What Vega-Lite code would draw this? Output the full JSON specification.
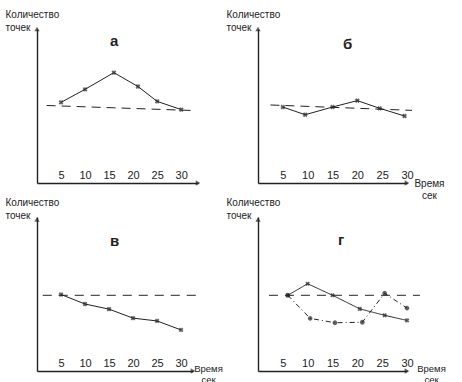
{
  "$schema": "https://vega.github.io/schema/vega-lite/v6.json",
  "background": "white",
  "padding": {"left": 5, "top": 9, "right": 5, "bottom": 3},
  "autosize": {"type": "pad"},
  "datasets": {
    "pts": [
      {"panel": "а", "series": "s1", "x": 5, "y": 3.14},
      {"panel": "а", "series": "s1", "x": 10, "y": 3.65},
      {"panel": "а", "series": "s1", "x": 16, "y": 4.3},
      {"panel": "а", "series": "s1", "x": 21, "y": 3.76},
      {"panel": "а", "series": "s1", "x": 25, "y": 3.18},
      {"panel": "а", "series": "s1", "x": 30, "y": 2.86},
      {"panel": "б", "series": "s1", "x": 5, "y": 2.96},
      {"panel": "б", "series": "s1", "x": 9.5, "y": 2.66},
      {"panel": "б", "series": "s1", "x": 15, "y": 2.96},
      {"panel": "б", "series": "s1", "x": 20, "y": 3.21},
      {"panel": "б", "series": "s1", "x": 24.5, "y": 2.91},
      {"panel": "б", "series": "s1", "x": 29.5, "y": 2.61},
      {"panel": "в", "series": "s1", "x": 5, "y": 2.98},
      {"panel": "в", "series": "s1", "x": 10, "y": 2.61},
      {"panel": "в", "series": "s1", "x": 15, "y": 2.41},
      {"panel": "в", "series": "s1", "x": 20, "y": 2.06},
      {"panel": "в", "series": "s1", "x": 25, "y": 1.95},
      {"panel": "в", "series": "s1", "x": 30, "y": 1.6},
      {"panel": "г", "series": "s1", "x": 6, "y": 2.95},
      {"panel": "г", "series": "s1", "x": 10, "y": 3.4},
      {"panel": "г", "series": "s1", "x": 15, "y": 2.95},
      {"panel": "г", "series": "s1", "x": 20.5, "y": 2.42},
      {"panel": "г", "series": "s1", "x": 25.5, "y": 2.17},
      {"panel": "г", "series": "s1", "x": 30, "y": 1.97},
      {"panel": "г", "series": "s2", "x": 6, "y": 2.95},
      {"panel": "г", "series": "s2", "x": 10.5, "y": 2.05},
      {"panel": "г", "series": "s2", "x": 15.5, "y": 1.88},
      {"panel": "г", "series": "s2", "x": 21, "y": 1.9},
      {"panel": "г", "series": "s2", "x": 25.5, "y": 3.03},
      {"panel": "г", "series": "s2", "x": 30, "y": 2.45}
    ],
    "ref": [
      {"panel": "а", "x": 2, "y": 3.02},
      {"panel": "а", "x": 33, "y": 2.82},
      {"panel": "б", "x": 2.5, "y": 3.04},
      {"panel": "б", "x": 31, "y": 2.83},
      {"panel": "в", "x": 1.2, "y": 2.95},
      {"panel": "в", "x": 33.3, "y": 2.95},
      {"panel": "г", "x": 2.2, "y": 2.95},
      {"panel": "г", "x": 32.6, "y": 2.95}
    ],
    "xt": [
      {"panel": "а", "x": 5}, {"panel": "а", "x": 10}, {"panel": "а", "x": 15}, {"panel": "а", "x": 20}, {"panel": "а", "x": 25}, {"panel": "а", "x": 30},
      {"panel": "б", "x": 5}, {"panel": "б", "x": 10}, {"panel": "б", "x": 15}, {"panel": "б", "x": 20}, {"panel": "б", "x": 25},
      {"panel": "в", "x": 5}, {"panel": "в", "x": 10}, {"panel": "в", "x": 15}, {"panel": "в", "x": 20}, {"panel": "в", "x": 25}, {"panel": "в", "x": 30},
      {"panel": "г", "x": 5}, {"panel": "г", "x": 10}, {"panel": "г", "x": 15}, {"panel": "г", "x": 20}, {"panel": "г", "x": 25}
    ],
    "yt": [
      {"y": 1}, {"y": 2}, {"y": 3}, {"y": 4}, {"y": 5}
    ],
    "arr": [
      {"panel": "а", "ax": "x", "x": 33.5, "y": 0},
      {"panel": "а", "ax": "y", "x": 0, "y": 6},
      {"panel": "б", "ax": "x", "x": 30, "y": 0},
      {"panel": "б", "ax": "y", "x": 0, "y": 6},
      {"panel": "в", "ax": "x", "x": 32.5, "y": 0},
      {"panel": "в", "ax": "y", "x": 0, "y": 5.9},
      {"panel": "г", "ax": "x", "x": 30, "y": 0},
      {"panel": "г", "ax": "y", "x": 0, "y": 5.9}
    ]
  },
  "columns": 2,
  "spacing": {"row": 34, "column": 60},
  "bounds": "flush",
  "concat": [
    {
      "width": 161, "height": 154,
      "title": {"text": "а", "anchor": "start", "frame": "group", "dx": 73, "dy": 44},
      "encoding": {
        "x": {"field": "x", "type": "quantitative", "scale": {"domain": [0, 33.5], "nice": false, "zero": false}, "axis": {"title": null, "values": [5, 10, 15, 20, 25, 30]}},
        "y": {"field": "y", "type": "quantitative", "scale": {"domain": [0, 6], "nice": false}, "axis": {"title": ["Количество", "точек"]}}
      },
      "resolve": {"scale": {"shape": "independent"}},
      "layer": [
        {"data": {"name": "ref"}, "transform": [{"filter": "datum.panel === 'а'"}], "mark": {"type": "line", "strokeDash": [9, 6], "strokeWidth": 1, "color": "#222"}},
        {"data": {"name": "pts"}, "transform": [{"filter": "datum.panel === 'а'"}], "mark": {"type": "line", "strokeWidth": 1, "color": "#222"}},
        {"data": {"name": "pts"}, "transform": [{"filter": "datum.panel === 'а'"}], "mark": {"type": "point", "shape": "cross", "angle": 45, "filled": true, "size": 24, "color": "#222"}},
        {"data": {"name": "xt"}, "transform": [{"filter": "datum.panel === 'а'"}], "mark": {"type": "tick", "orient": "vertical", "size": 8, "thickness": 1, "color": "#222"}, "encoding": {"y": {"datum": 0}}},
        {"data": {"name": "yt"}, "mark": {"type": "tick", "orient": "horizontal", "size": 9, "thickness": 1, "color": "#222"}, "encoding": {"x": {"datum": 0}}},
        {"data": {"name": "arr"}, "transform": [{"filter": "datum.panel === 'а'"}], "mark": {"type": "point", "filled": true, "size": 28, "color": "#222"}, "encoding": {"shape": {"field": "ax", "type": "nominal", "scale": {"domain": ["x", "y"], "range": ["triangle-right", "triangle-up"]}, "legend": null}}}
      ]
    },
    {
      "width": 149, "height": 154,
      "title": {"text": "б", "anchor": "start", "frame": "group", "dx": 85, "dy": 47},
      "encoding": {
        "x": {"field": "x", "type": "quantitative", "scale": {"domain": [0, 30], "nice": false, "zero": false}, "axis": {"values": [5, 10, 15, 20, 25, 30], "title": ["Время", "сек"], "titleX": 171, "titleY": 0, "titleLineHeight": 12}},
        "y": {"field": "y", "type": "quantitative", "scale": {"domain": [0, 6], "nice": false}, "axis": {"title": ["Количество", "точек"]}}
      },
      "resolve": {"scale": {"shape": "independent"}},
      "layer": [
        {"data": {"name": "ref"}, "transform": [{"filter": "datum.panel === 'б'"}], "mark": {"type": "line", "strokeDash": [9, 6], "strokeWidth": 1, "color": "#222"}},
        {"data": {"name": "pts"}, "transform": [{"filter": "datum.panel === 'б'"}], "mark": {"type": "line", "strokeWidth": 1, "color": "#222"}},
        {"data": {"name": "pts"}, "transform": [{"filter": "datum.panel === 'б'"}], "mark": {"type": "point", "shape": "cross", "angle": 45, "filled": true, "size": 24, "color": "#222"}},
        {"data": {"name": "xt"}, "transform": [{"filter": "datum.panel === 'б'"}], "mark": {"type": "tick", "orient": "vertical", "size": 8, "thickness": 1, "color": "#222"}, "encoding": {"y": {"datum": 0}}},
        {"data": {"name": "yt"}, "mark": {"type": "tick", "orient": "horizontal", "size": 9, "thickness": 1, "color": "#222"}, "encoding": {"x": {"datum": 0}}},
        {"data": {"name": "arr"}, "transform": [{"filter": "datum.panel === 'б'"}], "mark": {"type": "point", "filled": true, "size": 28, "color": "#222"}, "encoding": {"shape": {"field": "ax", "type": "nominal", "scale": {"domain": ["x", "y"], "range": ["triangle-right", "triangle-up"]}, "legend": null}}}
      ]
    },
    {
      "width": 156, "height": 154,
      "title": {"text": "в", "anchor": "start", "frame": "group", "dx": 73, "dy": 56},
      "encoding": {
        "x": {"field": "x", "type": "quantitative", "scale": {"domain": [0, 32.5], "nice": false, "zero": false}, "axis": {"values": [5, 10, 15, 20, 25, 30], "title": ["Время", "сек"], "titleX": 171, "titleY": -3, "titleFontSize": 9.5, "titleLineHeight": 11}},
        "y": {"field": "y", "type": "quantitative", "scale": {"domain": [0, 6], "nice": false}, "axis": {"title": ["Количество", "точек"]}}
      },
      "resolve": {"scale": {"shape": "independent"}},
      "layer": [
        {"data": {"name": "ref"}, "transform": [{"filter": "datum.panel === 'в'"}], "mark": {"type": "line", "strokeDash": [9, 7], "strokeWidth": 1, "color": "#222"}},
        {"data": {"name": "pts"}, "transform": [{"filter": "datum.panel === 'в'"}], "mark": {"type": "line", "strokeWidth": 1, "color": "#222"}},
        {"data": {"name": "pts"}, "transform": [{"filter": "datum.panel === 'в'"}], "mark": {"type": "point", "shape": "cross", "angle": 45, "filled": true, "size": 24, "color": "#222"}},
        {"data": {"name": "xt"}, "transform": [{"filter": "datum.panel === 'в'"}], "mark": {"type": "tick", "orient": "vertical", "size": 8, "thickness": 1, "color": "#222"}, "encoding": {"y": {"datum": 0}}},
        {"data": {"name": "yt"}, "mark": {"type": "tick", "orient": "horizontal", "size": 9, "thickness": 1, "color": "#222"}, "encoding": {"x": {"datum": 0}}},
        {"data": {"name": "arr"}, "transform": [{"filter": "datum.panel === 'в'"}], "mark": {"type": "point", "filled": true, "size": 28, "color": "#222"}, "encoding": {"shape": {"field": "ax", "type": "nominal", "scale": {"domain": ["x", "y"], "range": ["triangle-right", "triangle-up"]}, "legend": null}}}
      ]
    },
    {
      "width": 149, "height": 154,
      "title": {"text": "г", "anchor": "start", "frame": "group", "dx": 80, "dy": 55},
      "encoding": {
        "x": {"field": "x", "type": "quantitative", "scale": {"domain": [0, 30], "nice": false, "zero": false}, "axis": {"values": [5, 10, 15, 20, 25, 30], "title": ["Время", "сек"], "titleX": 173, "titleY": -3, "titleFontSize": 9.5, "titleLineHeight": 11}},
        "y": {"field": "y", "type": "quantitative", "scale": {"domain": [0, 6], "nice": false}, "axis": {"title": ["Количество", "точек"]}}
      },
      "resolve": {"scale": {"shape": "independent", "strokeDash": "independent"}},
      "layer": [
        {"data": {"name": "ref"}, "transform": [{"filter": "datum.panel === 'г'"}], "mark": {"type": "line", "strokeDash": [9, 7], "strokeWidth": 1, "color": "#222"}},
        {"data": {"name": "pts"}, "transform": [{"filter": "datum.panel === 'г'"}], "mark": {"type": "line", "strokeWidth": 1, "color": "#222"}, "encoding": {"strokeDash": {"field": "series", "type": "nominal", "scale": {"domain": ["s1", "s2"], "range": [[1, 0], [5, 3, 1, 3]]}, "legend": null}}},
        {"data": {"name": "pts"}, "transform": [{"filter": "datum.panel === 'г'"}], "mark": {"type": "point", "angle": 45, "filled": true, "size": 22, "color": "#222"}, "encoding": {"shape": {"field": "series", "type": "nominal", "scale": {"domain": ["s1", "s2"], "range": ["cross", "circle"]}, "legend": null}}},
        {"data": {"name": "xt"}, "transform": [{"filter": "datum.panel === 'г'"}], "mark": {"type": "tick", "orient": "vertical", "size": 8, "thickness": 1, "color": "#222"}, "encoding": {"y": {"datum": 0}}},
        {"data": {"name": "yt"}, "mark": {"type": "tick", "orient": "horizontal", "size": 9, "thickness": 1, "color": "#222"}, "encoding": {"x": {"datum": 0}}},
        {"data": {"name": "arr"}, "transform": [{"filter": "datum.panel === 'г'"}], "mark": {"type": "point", "filled": true, "size": 28, "color": "#222"}, "encoding": {"shape": {"field": "ax", "type": "nominal", "scale": {"domain": ["x", "y"], "range": ["triangle-right", "triangle-up"]}, "legend": null}}}
      ]
    }
  ],
  "config": {
    "view": {"stroke": null},
    "font": "Liberation Sans",
    "title": {"fontSize": 15, "fontWeight": "bold", "font": "Liberation Sans", "color": "#222", "baseline": "alphabetic", "offset": 0},
    "axis": {"grid": false, "domainColor": "#222", "domainWidth": 1.4, "ticks": false, "tickSize": 0, "titleFont": "Liberation Sans", "titleFontWeight": "normal", "titleColor": "#222", "labelFont": "Liberation Sans", "labelColor": "#222"},
    "axisX": {"labelPadding": -5, "labelBaseline": "alphabetic", "labelFontSize": 11, "labelFlush": false, "labelOverlap": false, "titleAngle": 0, "titleAlign": "center", "titleBaseline": "middle", "titleFontSize": 10, "titleLineHeight": 10},
    "axisY": {"labels": false, "titleAngle": 0, "titleAlign": "left", "titleBaseline": "alphabetic", "titleX": -32, "titleY": -12, "titleFontSize": 10, "titleLineHeight": 13}
  }
}
